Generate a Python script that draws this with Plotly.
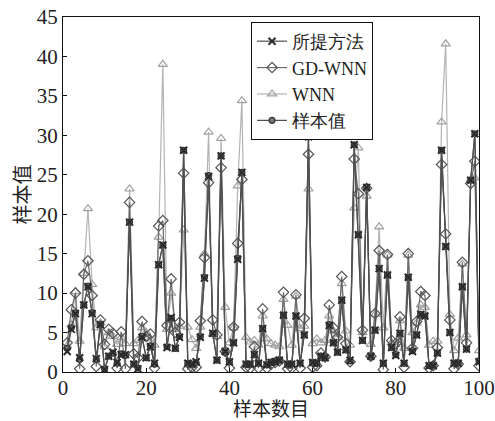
import plotly.graph_objects as go

# Sample index 1..100
sample_idx = list(range(1, 101))

# Actual sample values
sample_vals = [
    3.0, 5.6, 7.5, 1.6, 8.5, 10.9, 7.5, 1.6, 6.0, 0.4,
    2.0, 2.4, 1.1, 2.3, 2.1, 19.0, 1.0, 0.5, 4.5, 1.8,
    3.3, 1.0, 13.6, 16.1, 3.2, 6.8, 3.0, 4.5, 28.1, 1.1,
    1.0, 1.2, 4.5, 12.0, 24.9, 4.9, 1.5, 27.4, 2.5, 1.3,
    3.7, 14.4, 25.3, 1.0, 1.0, 2.2, 1.1, 5.5, 0.9, 1.2,
    1.3, 1.5, 7.2, 1.0, 1.0, 7.1, 1.1, 4.7, 29.8, 1.2,
    1.1, 2.0, 1.8, 6.0, 3.7, 2.5, 9.1, 2.8, 1.4, 28.8,
    17.4, 4.0, 23.4, 1.9, 5.3, 13.1, 1.1, 12.3, 3.1, 2.2,
    4.9, 1.1, 12.0, 2.7, 4.7, 7.3, 7.1, 0.8, 0.9, 2.4,
    28.1, 15.9, 5.0, 1.1, 1.1, 10.8, 2.9, 24.3, 30.2, 1.4,
]

# Proposed method predictions
proposed_vals = [
    2.6, 5.4, 7.4, 1.8, 8.5, 10.8, 7.4, 1.7, 6.0, 0.3,
    2.0, 2.5, 1.2, 2.2, 2.2, 19.0, 1.0, 0.4, 4.4, 1.8,
    3.2, 1.1, 13.6, 16.1, 3.1, 6.9, 3.0, 4.4, 28.1, 1.1,
    1.0, 1.3, 4.4, 11.9, 24.8, 4.9, 1.5, 27.4, 2.6, 1.3,
    3.7, 14.3, 25.3, 1.0, 1.0, 2.2, 1.1, 5.5, 0.9, 1.2,
    1.3, 1.5, 7.2, 1.0, 1.0, 7.1, 1.1, 4.7, 29.8, 1.2,
    1.1, 2.0, 1.8, 5.9, 3.7, 2.5, 9.1, 2.8, 1.5, 28.8,
    17.4, 4.0, 23.4, 2.0, 5.3, 13.1, 1.1, 12.3, 3.1, 2.1,
    4.9, 1.1, 12.0, 2.6, 4.7, 7.3, 7.1, 0.8, 0.8, 2.4,
    28.1, 15.9, 5.0, 1.1, 1.1, 10.8, 2.9, 24.3, 30.2, 1.3,
]

# GD-WNN predictions
gdwnn_vals = [
    3.7, 7.9, 10.0, 0.4, 12.4, 14.1, 9.7, 0.7, 6.6, 3.5,
    5.4, 4.9, 0.5, 5.1, 0.4, 21.5, 2.3, 1.8, 6.4, 4.5,
    4.8, 0.5, 18.5, 19.2, 5.9, 11.8, 5.0, 6.3, 25.2, 0.4,
    0.6, 0.6, 6.5, 14.5, 24.0, 6.6, 4.7, 25.9, 2.6, 0.5,
    5.7, 16.3, 24.4, 0.6, 0.5, 3.2, 0.5, 8.0, 0.5, 1.0,
    1.2, 1.4, 10.1, 0.4, 0.5, 9.8, 0.5, 6.8, 27.6, 0.6,
    0.8, 2.4, 1.9, 8.5, 5.6, 4.4, 12.1, 3.6, 1.3, 27.0,
    22.6, 5.3, 23.3, 2.0, 7.4, 15.4, 0.3, 14.9, 4.0, 3.6,
    7.0, 0.6, 15.0, 3.0, 6.4, 10.2, 9.7, 0.5, 0.8, 3.1,
    26.3, 17.5, 6.6, 0.4, 1.0, 13.9, 3.7, 23.9, 26.7, 0.8,
]

# WNN predictions
wnn_vals = [
    3.3, 6.0, 10.2, 3.9, 12.5, 20.7, 11.1, 5.6, 6.2, 3.2,
    5.0, 4.5, 3.5, 4.4, 3.6, 23.2, 3.6, 4.0, 5.6, 5.0,
    4.2, 3.4, 17.1, 39.0, 5.4, 10.0, 5.4, 5.8, 18.0, 5.7,
    4.1, 3.0, 5.7, 15.0, 30.4, 4.8, 4.5, 29.6, 8.2, 3.7,
    5.6, 23.6, 34.4, 4.4, 3.8, 4.0, 3.4, 7.1, 4.2, 3.6,
    3.4, 3.2, 9.2, 5.9, 3.4, 9.6, 5.5, 5.8, 23.2, 3.6,
    4.2, 3.7, 4.0, 7.1, 5.2, 4.4, 11.2, 5.2, 3.4, 20.8,
    28.4, 5.0, 22.3, 3.5, 7.3, 18.4, 5.6, 14.8, 3.7, 3.5,
    6.5, 3.0, 14.8, 5.0, 6.2, 8.5, 8.2, 3.4, 3.9, 3.9,
    31.7, 41.6, 7.3, 2.7, 4.3, 13.7, 4.7, 24.4, 24.6, 2.7,
]

x_ticks = [0, 20, 40, 60, 80, 100]
y_ticks = [0, 5, 10, 15, 20, 25, 30, 35, 40, 45]

cjk = "Noto Sans CJK SC"
serif = "Times New Roman"

fig = go.Figure()

fig.add_trace(go.Scatter(
    x=sample_idx, y=wnn_vals, name="WNN", mode="lines+markers",
    line=dict(color="#b4b4b4", width=1.2),
    marker=dict(symbol="triangle-up-open", size=8, color="#a0a0a0",
                line=dict(width=1.2)),
    legendrank=3,
))
fig.add_trace(go.Scatter(
    x=sample_idx, y=gdwnn_vals, name="GD-WNN", mode="lines+markers",
    line=dict(color="#6a6a6a", width=1.2),
    marker=dict(symbol="diamond-open", size=8, color="#555555",
                line=dict(width=1.2)),
    legendrank=2,
))
fig.add_trace(go.Scatter(
    x=sample_idx, y=sample_vals, name="样本值", mode="lines+markers",
    line=dict(color="#4a4a4a", width=1.2),
    marker=dict(symbol="circle", size=6, color="#777777",
                line=dict(color="#333333", width=1.2)),
    legendrank=4,
))
fig.add_trace(go.Scatter(
    x=sample_idx, y=proposed_vals, name="所提方法", mode="lines+markers",
    line=dict(color="#505050", width=1.2),
    marker=dict(symbol="x-thin-open", size=7, color="#2a2a2a",
                line=dict(color="#2a2a2a", width=2)),
    legendrank=1,
))

fig.update_layout(
    width=495, height=421,
    margin=dict(l=63, r=16, t=17, b=49),
    paper_bgcolor="white", plot_bgcolor="white",
    font=dict(family=serif, size=20, color="#222222"),
    showlegend=True,
    legend=dict(
        x=0.452, y=0.986, xanchor="left", yanchor="top",
        bgcolor="white", bordercolor="#111111", borderwidth=1,
        font=dict(family=serif, size=18, color="#222222"),
        itemwidth=30, tracegroupgap=0,
    ),
    xaxis=dict(
        range=[0, 100], tickvals=x_ticks, ticktext=[str(v) for v in x_ticks],
        showgrid=False, zeroline=False, automargin=False,
        showline=True, linecolor="#111111", linewidth=1.2, mirror=True,
        ticks="inside", ticklen=4, tickcolor="#111111",
        ticklabeloverflow="allow", ticklabelstandoff=-3,
        tickfont=dict(family=serif, size=21),
        title=dict(text="样本数目", font=dict(family=cjk, size=19), standoff=0),
    ),
    yaxis=dict(
        range=[0, 45], tickvals=y_ticks, ticktext=[str(v) for v in y_ticks],
        showgrid=False, zeroline=False, automargin=False,
        showline=True, linecolor="#111111", linewidth=1.2, mirror=True,
        ticks="inside", ticklen=4, tickcolor="#111111",
        tickfont=dict(family=serif, size=21),
        title=dict(text="样本值", font=dict(family=cjk, size=20), standoff=0),
    ),
)

fig.write_html("out.html")
